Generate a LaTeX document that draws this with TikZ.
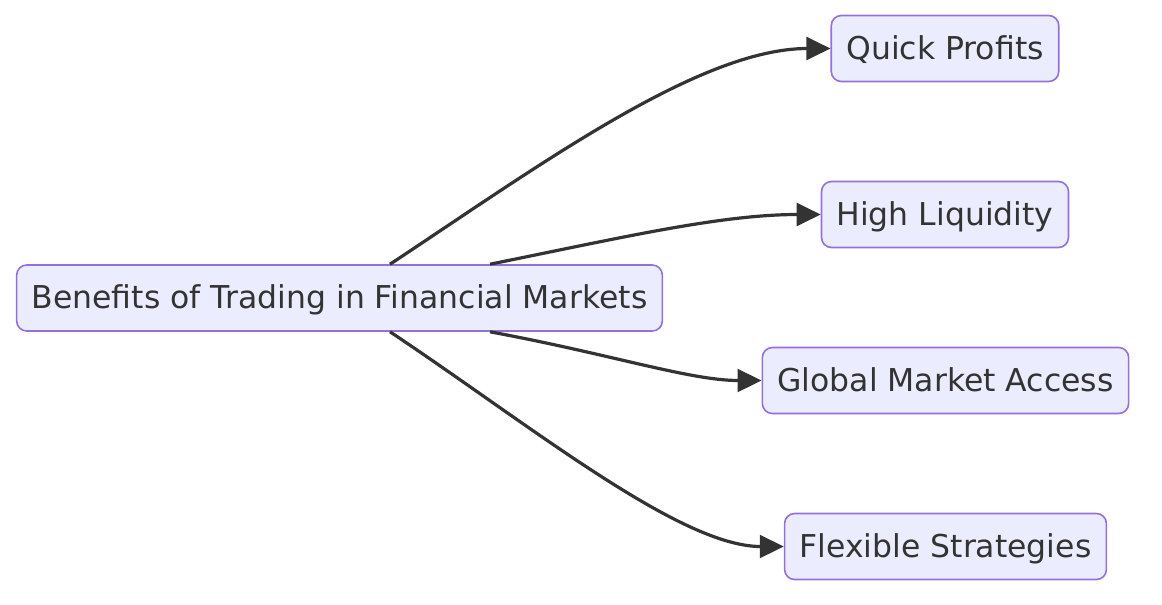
\documentclass[tikz,border=0pt]{standalone}
\usepackage{fontspec}
\setmainfont{DejaVu Sans}
\usepackage{tikz}
\usetikzlibrary{arrows.meta}
\definecolor{boxfill}{HTML}{ECECFF}
\definecolor{boxline}{HTML}{9370DB}
\definecolor{ink}{HTML}{333333}

\begin{document}
\begin{tikzpicture}[x=0.75pt,y=-0.75pt,
  -{Triangle[length=18pt,width=17pt]},line width=2.4pt,draw=ink,
  main node/.style={rectangle,rounded corners=7.5pt,draw=boxline,line width=1.2pt,
    fill=boxfill,text=ink,font=\fontsize{23.6}{28}\selectfont,
    inner xsep=11.25pt,inner ysep=0pt,minimum height=49.5pt,
    text height=19pt,text depth=3pt}]
\useasboundingbox (0,0) rectangle (1162,604);
\node[main node] (main) at (339.5,298) {Benefits of Trading in Financial Markets};
\node[main node] (profits) at (945,48.5) {Quick Profits};
\node[main node] (liquidity) at (945,214.5) {High Liquidity};
\node[main node] (access) at (945.5,380.5) {Global Market Access};
\node[main node] (strategies) at (945.5,546.5) {Flexible Strategies};
\draw ([xshift=37.9pt]main.north) .. controls (540,165) and (700,48.5) .. (profits.west);
\draw ([xshift=112.9pt]main.north) .. controls (620,238) and (720,214.5) .. (liquidity.west);
\draw ([xshift=112.9pt]main.south) .. controls (610,354) and (690,380.5) .. (access.west);
\draw ([xshift=37.9pt]main.south) .. controls (530,425) and (680,546.5) .. (strategies.west);
\end{tikzpicture}
\end{document}
